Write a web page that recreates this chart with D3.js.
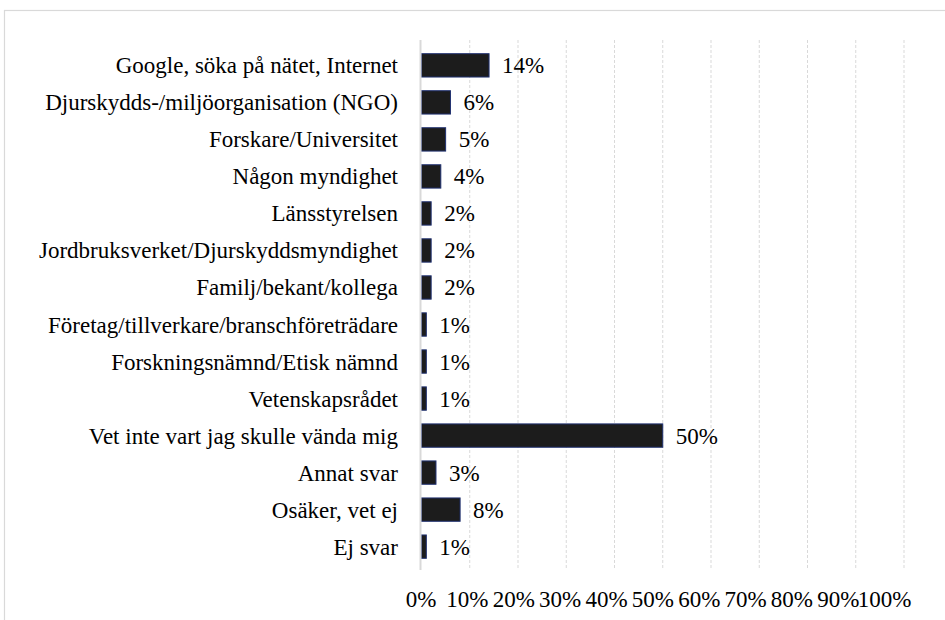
<!DOCTYPE html>
<html><head><meta charset="utf-8"><script src="https://cdn.jsdelivr.net/npm/d3@7"></script></head>
<body style="margin:0">
<script>
//Chart data
const categories = [
  "Google, söka på nätet, Internet",
  "Djurskydds-/miljöorganisation (NGO)",
  "Forskare/Universitet",
  "Någon myndighet",
  "Länsstyrelsen",
  "Jordbruksverket/Djurskyddsmyndighet",
  "Familj/bekant/kollega",
  "Företag/tillverkare/branschföreträdare",
  "Forskningsnämnd/Etisk nämnd",
  "Vetenskapsrådet",
  "Vet inte vart jag skulle vända mig",
  "Annat svar",
  "Osäker, vet ej",
  "Ej svar"
];
const values = [0.14, 0.06, 0.05, 0.04, 0.02, 0.02, 0.02, 0.01, 0.01, 0.01, 0.50, 0.03, 0.08, 0.01];
const tickValues = [0, 0.1, 0.2, 0.3, 0.4, 0.5, 0.6, 0.7, 0.8, 0.9, 1.0];

const width = 945, height = 620;
const plot = {left: 421.5, right: 904, top: 40, bottom: 572};
const font = "Liberation Serif";

//Create svg element
const svg = d3.select("body").append("svg")
  .attr("width", width)
  .attr("height", height);

//Chart frame (runs past the right and bottom edges)
svg.append("rect")
  .attr("x", 4.5).attr("y", 10.5)
  .attr("width", 1000).attr("height", 700)
  .attr("fill", "#fff")
  .attr("stroke", "#d9d9d9")
  .attr("stroke-width", 1.2);

//Scales
const x = d3.scaleLinear().domain([0, 1]).range([plot.left, plot.right]);
const y = d3.scaleBand().domain(categories).range([plot.top, plot.bottom]).padding(0.37);
//tick labels in the original are squeezed a little to the left
const xLab = d3.scaleLinear().domain([0, 1]).range([x(0) - 0.5, x(0.96)]);

//Gridlines
svg.selectAll("line.grid")
  .data(tickValues.slice(1))
  .enter()
  .append("line")
    .attr("class", "grid")
    .attr("x1", d => x(d)).attr("x2", d => x(d))
    .attr("y1", plot.top).attr("y2", 570)
    .attr("stroke", "#d9d9d9")
    .attr("stroke-width", 1)
    .attr("stroke-dasharray", "3,2");

//Bars
svg.selectAll("rect.bar")
  .data(values)
  .enter()
  .append("rect")
    .attr("class", "bar")
    .attr("x", x(0))
    .attr("y", (d, i) => y(categories[i]))
    .attr("width", d => x(d) - x(0))
    .attr("height", y.bandwidth())
    .attr("fill", "#1c1c1c")
    .attr("stroke", "#1f3070")
    .attr("stroke-width", 1);

//Vertical axis line
svg.append("line")
  .attr("x1", x(0) - 1).attr("x2", x(0) - 1)
  .attr("y1", plot.top).attr("y2", 570)
  .attr("stroke", "#d9d9d9")
  .attr("stroke-width", 2);

//Bottom tick labels (texts straight on the svg, no group)
svg.selectAll("text.tick")
  .data(tickValues)
  .enter()
  .append("text")
    .attr("class", "tick")
    .attr("x", d => xLab(d))
    .attr("y", 607)
    .attr("text-anchor", "middle")
    .attr("font-family", font)
    .style("font-family", font, "important")
    .attr("font-size", 23)
    .text(d => d3.format(".0%")(d));

//Category labels
svg.selectAll("text.cat")
  .data(categories)
  .enter()
  .append("text")
    .attr("class", "cat")
    .attr("x", 398)
    .attr("y", d => y(d) + y.bandwidth() / 2 + 8)
    .attr("text-anchor", "end")
    .attr("font-family", font)
    .style("font-family", font, "important")
    .attr("font-size", 23)
    .text(d => d);

//Value labels
svg.selectAll("text.val")
  .data(values)
  .enter()
  .append("text")
    .attr("class", "val")
    .attr("x", d => x(d) + 13)
    .attr("y", (d, i) => y(categories[i]) + y.bandwidth() / 2 + 8)
    .attr("font-family", font)
    .style("font-family", font, "important")
    .attr("font-size", 23)
    .text(d => d3.format(".0%")(d));
</script>
</body></html>
